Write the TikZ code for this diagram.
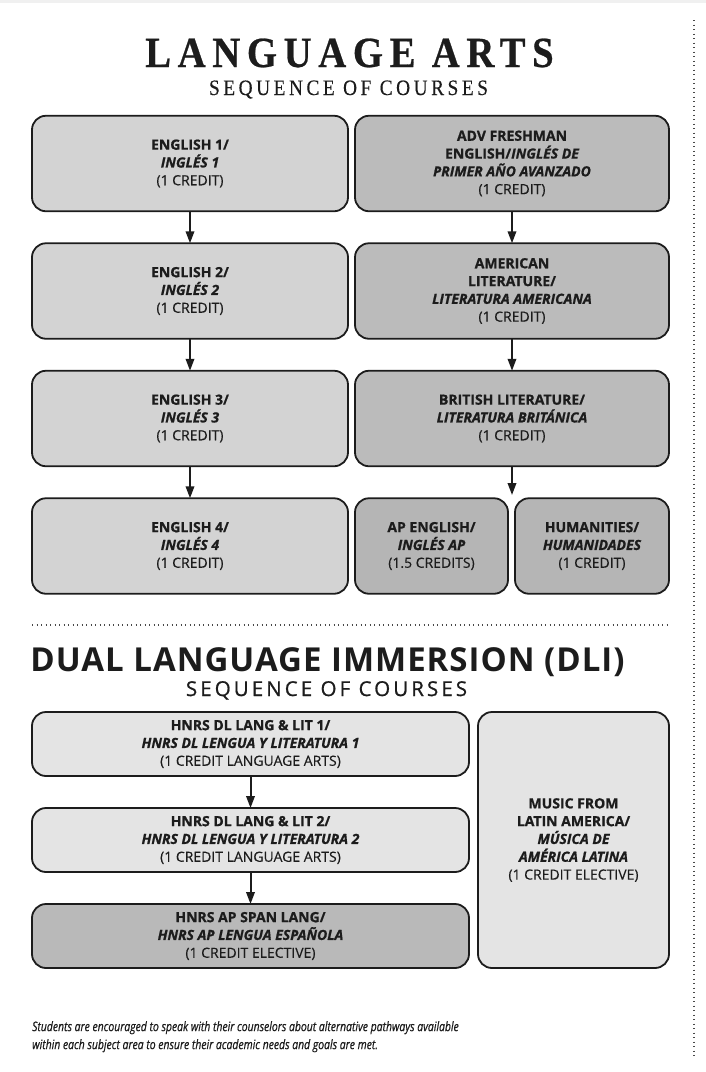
\documentclass[tikz,border=0pt]{standalone}
\usepackage{fontspec}
\setmainfont{Open Sans}[UprightFeatures={FakeBold=0.35}, BoldFeatures={FakeBold=0.9}, BoldItalicFeatures={FakeBold=0.9}]
\newfontfamily\titleserif{Liberation Serif}[FakeStretch=0.9,LetterSpace=15.5,BoldFeatures={FakeBold=0.6}]
\newfontfamily\subserif{Liberation Serif}[FakeStretch=0.88,LetterSpace=16,FakeBold=0.3]
\newfontfamily\subsans{Open Sans}[LetterSpace=15,FakeBold=0.9]
\newfontfamily\dlifont{Open Sans}[LetterSpace=3]
\newfontfamily\notefont{Open Sans}[FakeStretch=0.8,ItalicFeatures={FakeBold=0.6}]
\usetikzlibrary{positioning, arrows.meta}

\definecolor{inkdark}{HTML}{1C1C1C}
\definecolor{lalight}{HTML}{D3D3D3}
\definecolor{ladark}{HTML}{BBBBBB}
\definecolor{laap}{HTML}{B5B5B5}
\definecolor{dllight}{HTML}{E4E4E4}
\definecolor{dldark}{HTML}{B9B9B9}
\definecolor{topband}{HTML}{F0F0F0}

\newcommand{\es}[1]{{\bfseries\itshape #1}}

\begin{document}
\begin{tikzpicture}[
    x=1pt, y=-1pt,
    node distance=32pt and 7pt,
    course/.style={rectangle, draw=inkdark, line width=1.8pt, rounded corners=14pt, outer sep=0pt,
        align=center, text=inkdark, font=\fontsize{14}{17.8}\selectfont},
    lbox/.style={course, fill=lalight, minimum width=316pt, minimum height=95.5pt},
    rbox/.style={course, fill=ladark, minimum width=314pt, minimum height=95.5pt},
    dlbox/.style={course, fill=dllight, minimum width=437pt, minimum height=64pt},
    arrow/.style={-{Triangle[length=12pt, width=8.5pt]}, line width=2pt, draw=inkdark},
    dotline/.style={line width=1.1pt, dash pattern=on 1.1pt off 3.4pt, draw=inkdark!80},
]
\useasboundingbox (0,0) rectangle (706,1072);
\fill[topband] (0,0) rectangle (706,3);

% titles
\node[anchor=base, text=inkdark, font=\titleserif\bfseries\fontsize{43}{43}\selectfont] (latitle) at (349.5,67) {LANGUAGE ARTS};
\node[anchor=base, text=inkdark, font=\subserif\fontsize{22}{22}\selectfont] (lasub) at (348.5,95) {SEQUENCE OF COURSES};

% language arts sequence
\node[lbox] (eng1) at (190,163.5) {\textbf{ENGLISH 1/}\\\es{INGLÉS 1}\\(1 CREDIT)};
\node[lbox, below=of eng1] (eng2) {\textbf{ENGLISH 2/}\\\es{INGLÉS 2}\\(1 CREDIT)};
\node[lbox, below=of eng2] (eng3) {\textbf{ENGLISH 3/}\\\es{INGLÉS 3}\\(1 CREDIT)};
\node[lbox, below=of eng3] (eng4) {\textbf{ENGLISH 4/}\\\es{INGLÉS 4}\\(1 CREDIT)};

\node[rbox, right=of eng1] (advfr) {\textbf{ADV FRESHMAN}\\\textbf{ENGLISH/}\es{INGLÉS DE}\\\es{PRIMER AÑO AVANZADO}\\(1 CREDIT)};
\node[rbox, right=of eng2] (amlit) {\textbf{AMERICAN}\\\textbf{LITERATURE/}\\\es{LITERATURA AMERICANA}\\(1 CREDIT)};
\node[rbox, right=of eng3] (brlit) {\textbf{BRITISH LITERATURE/}\\\es{LITERATURA BRITÁNICA}\\(1 CREDIT)};
\node[rbox, fill=laap, minimum width=153pt, below=of brlit.south west, anchor=north west] (apeng) {\textbf{AP ENGLISH/}\\\es{INGLÉS AP}\\(1.5 CREDITS)};
\node[rbox, fill=laap, minimum width=154pt, right=of apeng] (human) {\textbf{HUMANITIES/}\\\es{HUMANIDADES}\\(1 CREDIT)};

\draw[arrow] (eng1) -- (eng2);
\draw[arrow] (eng2) -- (eng3);
\draw[arrow] (eng3) -- (eng4);
\draw[arrow] (advfr) -- (amlit);
\draw[arrow] (amlit) -- (brlit);
\coordinate (rowgap) at (512,495);
\draw[arrow] (brlit) -- (rowgap);

% separator
\coordinate (sepl) at (32,625);
\coordinate (sepr) at (669,625);
\draw[dotline] (sepl) -- (sepr);
\coordinate (edget) at (694,20);
\coordinate (edgeb) at (694,1056);
\draw[dotline] (edget) -- (edgeb);

% dual language immersion
\node[anchor=base, text=inkdark, font=\dlifont\bfseries\fontsize{33}{33}\selectfont] (dlititle) at (327.5,671) {DUAL LANGUAGE IMMERSION (DLI)};
\node[anchor=base, text=inkdark, font=\subsans\fontsize{20.5}{20.5}\selectfont] (dlisub) at (326.5,696) {SEQUENCE OF COURSES};

\node[dlbox] (dl1) at (250.5,744) {\textbf{HNRS DL LANG \& LIT 1/}\\\es{HNRS DL LENGUA Y LITERATURA 1}\\(1 CREDIT LANGUAGE ARTS)};
\node[dlbox, below=of dl1] (dl2) {\textbf{HNRS DL LANG \& LIT 2/}\\\es{HNRS DL LENGUA Y LITERATURA 2}\\(1 CREDIT LANGUAGE ARTS)};
\node[dlbox, fill=dldark, below=of dl2] (apspan) {\textbf{HNRS AP SPAN LANG/}\\\es{HNRS AP LENGUA ESPAÑOLA}\\(1 CREDIT ELECTIVE)};
\node[course, fill=dllight, minimum width=191pt, minimum height=256pt, right=9pt of dl2] (music) {\textbf{MUSIC FROM}\\\textbf{LATIN AMERICA/}\\\es{MÚSICA DE}\\\es{AMÉRICA LATINA}\\(1 CREDIT ELECTIVE)};

\draw[arrow] (dl1) -- (dl2);
\draw[arrow] (dl2) -- (apspan);

% footnote
\node[anchor=north west, align=left, inner sep=0pt, text=inkdark, font=\notefont\itshape\fontsize{13}{18}\selectfont] (note) at (32,1021) {Students are encouraged to speak with their counselors about alternative pathways available\\within each subject area to ensure their academic needs and goals are met.};
\end{tikzpicture}
\end{document}
